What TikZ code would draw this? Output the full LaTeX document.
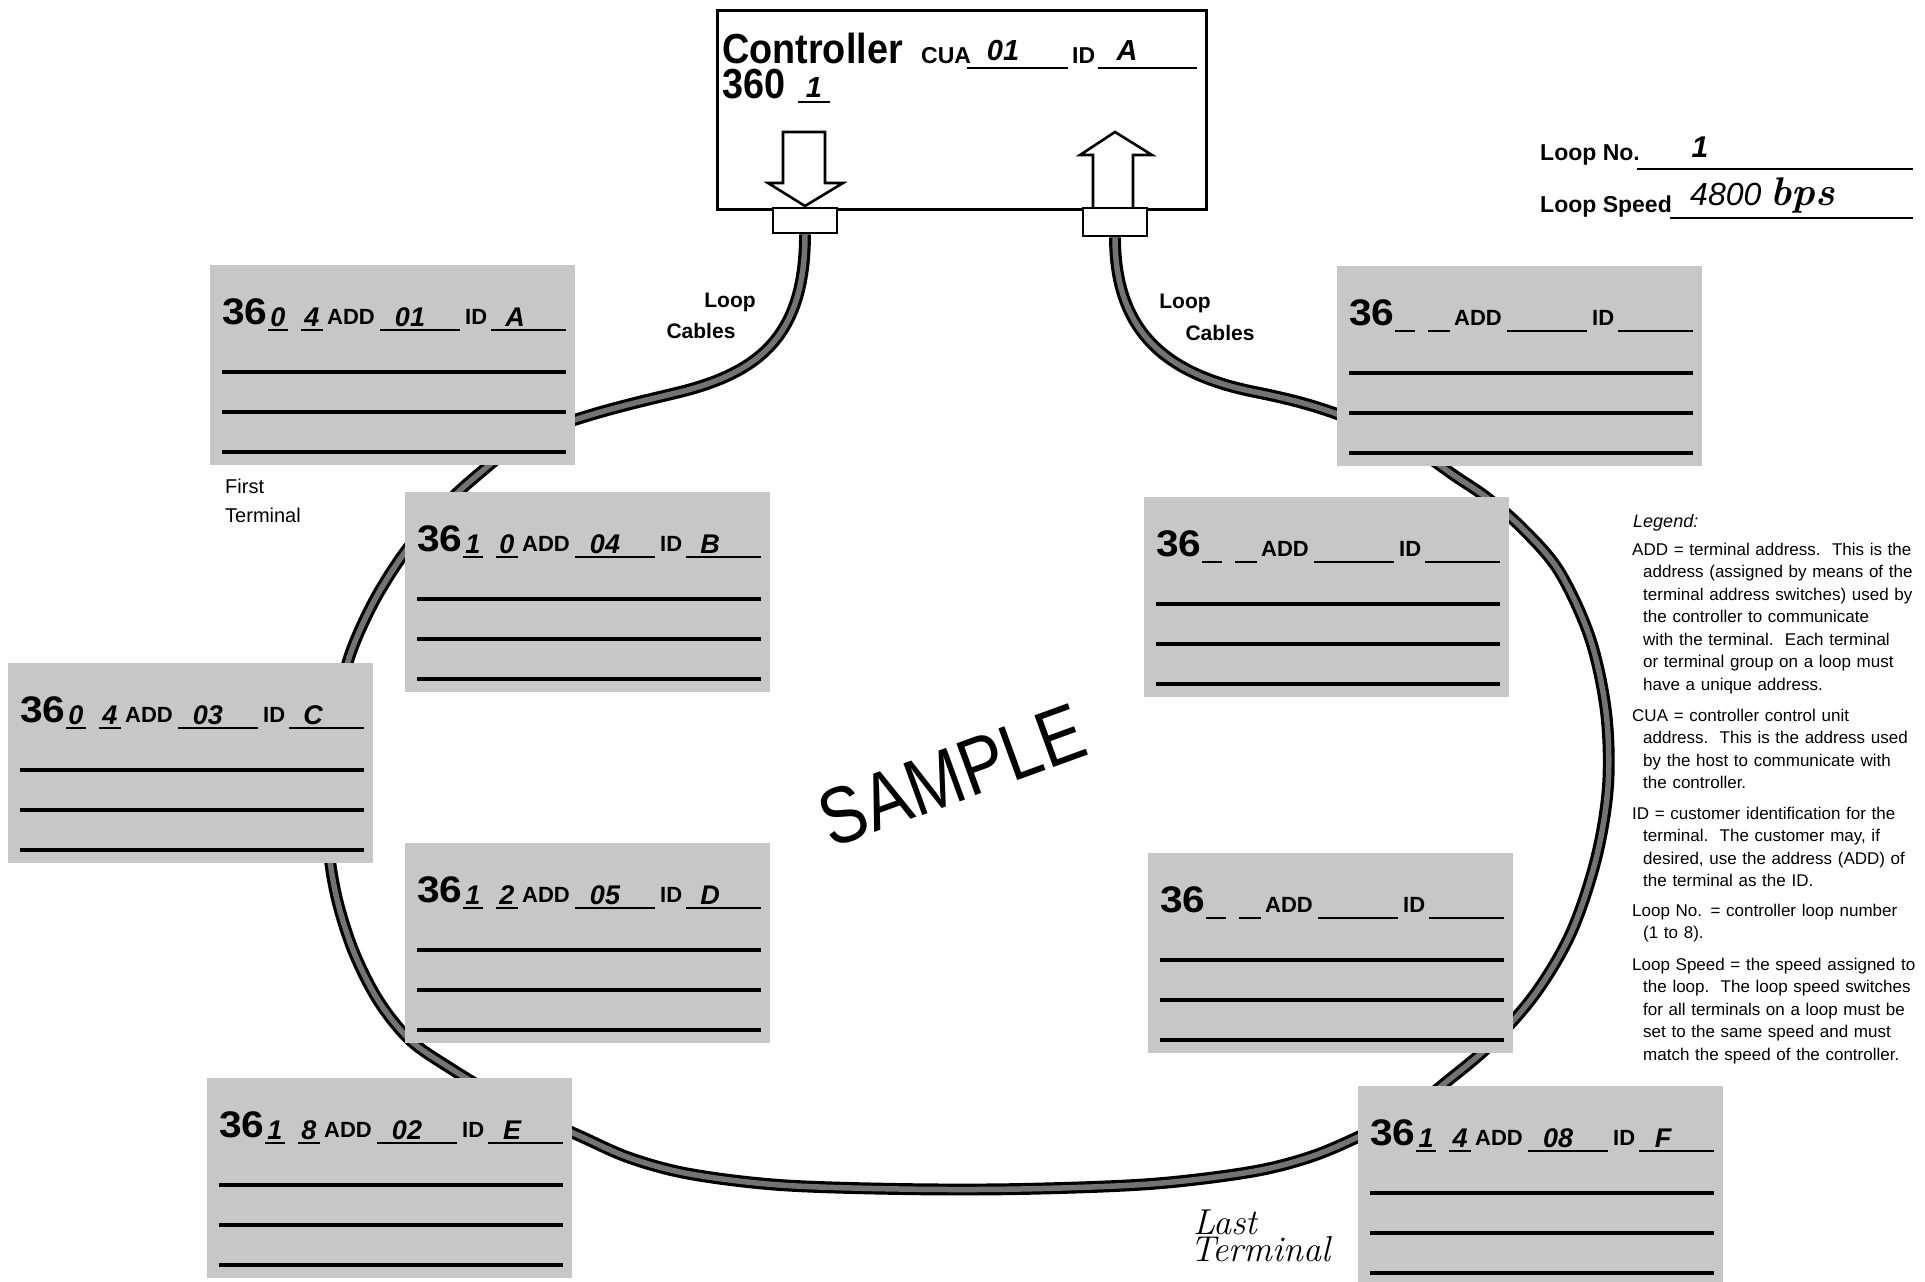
\documentclass[tikz,border=0pt]{standalone}
\usepackage{fontspec}
\newfontfamily\sans{Liberation Sans}
\usetikzlibrary{calc}
\pgfdeclarelayer{bg}
\pgfsetlayers{bg,main}
\tikzset{
  card/.style={fill=black!22, draw=none, inner sep=0pt, minimum width=365pt, minimum height=200pt, anchor=north west},
  rulez/.style={line width=3.2pt},
  blankln/.style={line width=2.4pt},
  cable/.style={line width=3.2pt, double=black!55, double distance=5.5pt},
  big/.style={anchor=base west, inner sep=0pt, font=\sans\bfseries\fontsize{37}{37}\selectfont},
  lbl/.style={anchor=base west, inner sep=0pt, font=\sans\bfseries\fontsize{22}{22}\selectfont},
  lbltwo/.style={anchor=base west, inner sep=0pt, font=\sans\bfseries\fontsize{23}{23}\selectfont},
  hand/.style={anchor=base, inner sep=0pt, font=\sans\bfseries\itshape\fontsize{27}{27}\selectfont},
  legend/.style={anchor=base west, inner sep=0pt, text width=330pt, align=left, font=\sans\fontsize{17}{22.5}\selectfont},
  cablelbl/.style={anchor=base, inner sep=0pt, font=\sans\bfseries\fontsize{21}{21}\selectfont},
  arrowshape/.style={draw, line width=2.6pt, fill=white, line join=miter},
  conn/.style={draw, line width=2.6pt, fill=white, inner sep=0pt, minimum width=64pt},
}
\newcommand\termcard[7]{%
  \node[card] (#1) at (#2,#3) {};
  \begin{scope}[shift={(#1.north west)}]
    \node[big] (#1-n) at (12,59) {\scalebox{1.1}[1]{36}};
    \draw[blankln] (58,65) -- (78,65) (91,65) -- (113,65) (170,65) -- (250,65) (281,65) -- (356,65);
    \node[lbl] (#1-a) at (117,59) {ADD};
    \node[lbl] (#1-i) at (255,59) {ID};
    \foreach \yy in {107,147,187} {\draw[rulez] (12,\yy) -- (356,\yy);}
    \if\relax\detokenize{#4}\relax\else
      \node[hand] (#1-d1) at (68,61) {#4};
      \node[hand] (#1-d2) at (102,61) {#5};
      \node[hand] (#1-v) at (200,61) {#6};
      \node[hand] (#1-w) at (305,61) {#7};
    \fi
  \end{scope}}
\begin{document}
\begin{tikzpicture}[x=1pt,y=-1pt]
\useasboundingbox (0,0) rectangle (1925,1282);

% controller
\node[draw, line width=3pt, fill=white, inner sep=0pt, minimum width=489pt, minimum height=199pt, anchor=north west] (ctrl) at (716,9) {};
\node[anchor=base west, inner sep=0pt, font=\sans\bfseries\fontsize{42}{42}\selectfont] (ctl) at (722,63) {\scalebox{0.9}[1]{Controller}};
\node[lbltwo] (cua) at (921,63) {CUA};
\draw[blankln] (967,68) -- (1068,68);
\node[hand, font=\sans\bfseries\itshape\fontsize{29}{29}\selectfont] (cuav) at (1003,60) {01};
\node[lbltwo] (cid) at (1072,63) {ID};
\draw[blankln] (1098,68) -- (1197,68);
\node[hand, font=\sans\bfseries\itshape\fontsize{29}{29}\selectfont] (cidv) at (1127,60) {A};
\node[anchor=base west, inner sep=0pt, font=\sans\bfseries\fontsize{42}{42}\selectfont] (c360) at (722,98) {\scalebox{0.9}[1]{360}};
\draw[blankln] (798,102) -- (830,102);
\node[hand, font=\sans\bfseries\itshape\fontsize{29}{29}\selectfont] (c360v) at (814,97) {1};
\draw[arrowshape] (783,132) -- (825,132) -- (825,183) -- (843,183) -- (805,206) -- (768,183) -- (783,183) -- cycle;
\draw[arrowshape] (1093,208) -- (1093,155) -- (1080,155) -- (1115,132) -- (1152,155) -- (1133,155) -- (1133,208);
\node[conn, minimum height=25pt] (cl) at (805,220.5) {};
\node[conn, minimum height=28pt] (cr) at (1115,222) {};

% loop number / speed
\node[lbltwo] (lpn) at (1540,160) {Loop No.};
\draw[blankln] (1637,169) -- (1913,169);
\node[hand, font=\sans\itshape\bfseries\fontsize{30}{30}\selectfont] (lpnv) at (1700,157) {1};
\node[lbltwo] (lps) at (1540,212) {Loop Speed};
\draw[blankln] (1670,218) -- (1913,218);
\node[anchor=base west, inner sep=0pt, font=\sans\itshape\fontsize{32}{32}\selectfont] (lpsv) at (1690,205) {4800 {\rmfamily\bfseries\itshape\fontsize{40}{40}\selectfont bps}};

% cards
\termcard{A}{210}{265}{0}{4}{01}{A}
\termcard{B}{405}{492}{1}{0}{04}{B}
\termcard{C}{8}{663}{0}{4}{03}{C}
\termcard{D}{405}{843}{1}{2}{05}{D}
\termcard{E}{207}{1078}{1}{8}{02}{E}
\termcard{TR}{1337}{266}{}{}{}{}
\termcard{MR}{1144}{497}{}{}{}{}
\termcard{LR}{1148}{853}{}{}{}{}
\termcard{F}{1358}{1086}{1}{4}{08}{F}

\coordinate (Ain) at (545,430);
\coordinate (TRin) at (1365,425);

% cables and loop
\begin{pgfonlayer}{bg}
\fill[white] (0,0) rectangle (1925,1282);
\draw[cable] (cl.south) .. controls (805,335) and (760,372) .. (680,392) .. controls (630,404) and (595,412) .. (Ain);
\draw[cable] (cr.south) .. controls (1115,335) and (1170,375) .. (1255,392) .. controls (1295,400) and (1325,408) .. (TRin);
\draw[cable] plot[smooth, tension=0.55] coordinates {
 (520,440) (487,467) (455,495) (425,527) (398,562) (372,605) (350,655) (336,712)
 (328,775) (328,840) (336,895) (353,950) (378,1000) (410,1040) (450,1068) (495,1095)
 (540,1118) (580,1136) (630,1158) (690,1174) (780,1185) (900,1189) (1020,1189)
 (1150,1184) (1250,1172) (1310,1157) (1360,1136) (1410,1110) (1445,1083) (1490,1045)
 (1535,994) (1571,933) (1596,859) (1608,786) (1606,712) (1590,638) (1559,571)
 (1522,528) (1486,497) (1455,476) (1430,458)};
\end{pgfonlayer}

% labels
\node[cablelbl] (lcl1) at (730,307) {Loop};
\node[cablelbl] (lcl2) at (701,338) {Cables};
\node[cablelbl] (lcr1) at (1185,308) {Loop};
\node[cablelbl] (lcr2) at (1220,340) {Cables};
\node[anchor=base west, inner sep=0pt, text width=120pt, align=left, font=\sans\fontsize{20}{29}\selectfont] (first) at (225,493) {First\\Terminal};
\node[anchor=base west, inner sep=0pt, font=\rmfamily\itshape\fontsize{36}{36}\selectfont] (last1) at (1193,1234) {Last};
\node[anchor=base west, inner sep=0pt, font=\rmfamily\itshape\fontsize{36}{36}\selectfont] (last2) at (1190,1261) {Terminal};
\node[rotate=20, inner sep=0pt, font=\sans\fontsize{80}{80}\selectfont] (smp) at (952,775) {\scalebox{0.85}[1]{SAMPLE}};

% legend
\node[anchor=base west, inner sep=0pt, font=\sans\itshape\fontsize{18}{18}\selectfont] (lgh) at (1633,527) {Legend:};
\node[legend] (lg1) at (1632,555) {\noindent ADD = terminal address.\ \ This is the\\\hspace*{11pt}address (assigned by means of the\\\hspace*{11pt}terminal address switches) used by\\\hspace*{11pt}the controller to communicate\\\hspace*{11pt}with the terminal.\ \ Each terminal\\\hspace*{11pt}or terminal group on a loop must\\\hspace*{11pt}have a unique address.};
\node[legend] (lg2) at (1632,721) {\noindent CUA = controller control unit\\\hspace*{11pt}address.\ \ This is the address used\\\hspace*{11pt}by the host to communicate with\\\hspace*{11pt}the controller.};
\node[legend] (lg3) at (1632,819) {\noindent ID = customer identification for the\\\hspace*{11pt}terminal.\ \ The customer may, if\\\hspace*{11pt}desired, use the address (ADD) of\\\hspace*{11pt}the terminal as the ID.};
\node[legend] (lg4) at (1632,916) {\noindent Loop No. = controller loop number\\\hspace*{11pt}(1 to 8).};
\node[legend] (lg5) at (1632,970) {\noindent Loop Speed = the speed assigned to\\\hspace*{11pt}the loop.\ \ The loop speed switches\\\hspace*{11pt}for all terminals on a loop must be\\\hspace*{11pt}set to the same speed and must\\\hspace*{11pt}match the speed of the controller.};
\end{tikzpicture}
\end{document}
